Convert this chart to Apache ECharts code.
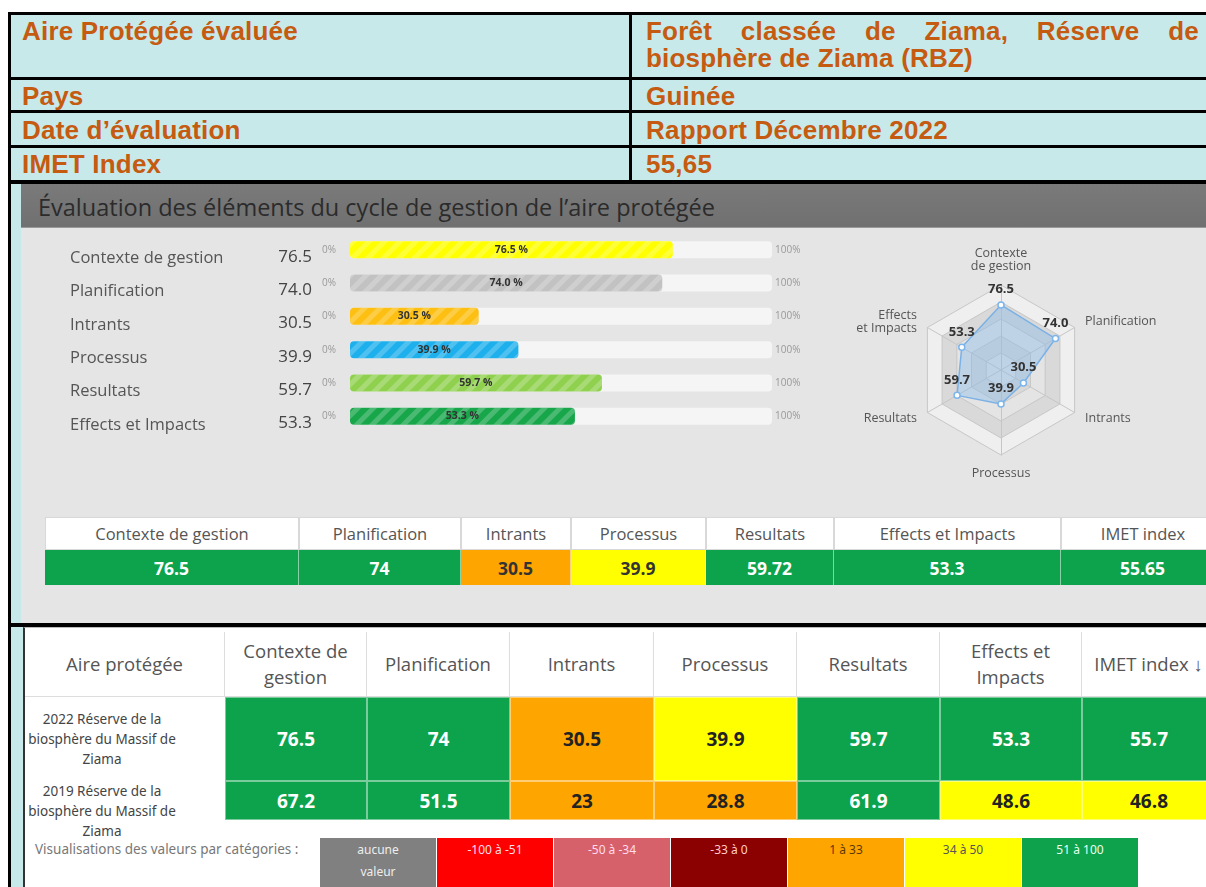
<!DOCTYPE html>
<html>
<head>
<meta charset="utf-8">
<script src="https://cdn.jsdelivr.net/npm/echarts@6/dist/echarts.min.js"></script>
<style>
  html, body { margin: 0; padding: 0; background: #fff; }
  #page { position: relative; width: 1206px; height: 887px; overflow: hidden; font-family: "Open Sans", sans-serif; }
  .a { position: absolute; box-sizing: border-box; }
  .bk { position: absolute; background: #000; }
  .hd { position: absolute; font-family: "Liberation Sans", Arial, sans-serif; font-weight: bold; font-size: 26px; letter-spacing: 0.2px; color: #c55a11; white-space: nowrap; }
  .cell { position: absolute; box-sizing: border-box; display: flex; align-items: center; justify-content: center; text-align: center; white-space: pre-line; }
</style>
</head>
<body>
<div id="page">
  <!-- cadre bleu clair + bordures noires -->
  <div class="a" style="left:8px;top:12px;width:1198px;height:875px;background:#c8e9ea"></div>
  <div class="bk" style="left:8px;top:12px;width:1198px;height:3px"></div>
  <div class="bk" style="left:8px;top:12px;width:3px;height:875px"></div>
  <div class="bk" style="left:8px;top:77px;width:1198px;height:3px"></div>
  <div class="bk" style="left:8px;top:110px;width:1198px;height:3px"></div>
  <div class="bk" style="left:8px;top:145px;width:1198px;height:3px"></div>
  <div class="bk" style="left:8px;top:180px;width:1198px;height:4px"></div>
  <div class="bk" style="left:629px;top:12px;width:3px;height:170px"></div>

  <div class="hd" style="left:22px;top:17px;line-height:28px">Aire Protégée évaluée</div>
  <div class="hd" style="left:646px;top:17px;width:553px;line-height:28px;text-align:justify;text-align-last:justify">Forêt classée de Ziama, Réserve de</div>
  <div class="hd" style="left:646px;top:44px;line-height:28px">biosphère de Ziama (RBZ)</div>
  <div class="hd" style="left:22px;top:81px;line-height:30px">Pays</div>
  <div class="hd" style="left:646px;top:81px;line-height:30px">Guinée</div>
  <div class="hd" style="left:22px;top:115px;line-height:30px">Date d’évaluation</div>
  <div class="hd" style="left:646px;top:115px;line-height:30px">Rapport Décembre 2022</div>
  <div class="hd" style="left:22px;top:149px;line-height:30px">IMET Index</div>
  <div class="hd" style="left:646px;top:149px;line-height:30px">55,65</div>

  <!-- tableau de bord -->
  <div class="a" style="left:21px;top:184px;width:1185px;height:44px;background:linear-gradient(#7a7a7a,#707070);border-bottom:1px solid #9a9a9a"></div>
  <div class="a" style="left:38px;top:192px;font-size:23.5px;color:#2b2b2b;line-height:30px;white-space:nowrap">Évaluation des éléments du cycle de gestion de l’aire protégée</div>
  <div class="a" style="left:21px;top:228px;width:1185px;height:395px;background:#e5e5e5"></div>
  <div id="chart" class="a" style="left:20px;top:229px;width:1186px;height:272px"></div>
  <div id="summary"></div>
  <div class="bk" style="left:8px;top:623px;width:1198px;height:4px"></div>

  <!-- comparaison -->
  <div class="a" style="left:23px;top:627px;width:1183px;height:260px;background:#fff;border-left:2px solid #333;border-top:1px solid #bbb"></div>
  <div id="compare"></div>
  <div class="a" style="left:35px;top:840px;font-size:13.5px;color:#777;white-space:nowrap;font-family:'Noto Sans',sans-serif">Visualisations des valeurs par catégories :</div>
  <div id="legend"></div>
</div>

<script>
// données
const categories = ['Contexte de gestion', 'Planification', 'Intrants', 'Processus', 'Resultats', 'Effects et Impacts'];
const scores = [76.5, 74.0, 30.5, 39.9, 59.7, 53.3];
const radarNames = ['Contexte\nde gestion', 'Planification', 'Intrants', 'Processus', 'Resultats', 'Effects\net Impacts'];
const summaryHeaders = ['Contexte de gestion', 'Planification', 'Intrants', 'Processus', 'Resultats', 'Effects et Impacts', 'IMET index'];
const summaryValues = [76.5, 74, 30.5, 39.9, 59.72, 53.3, 55.65];
const compareHeaders = ['Aire protégée', 'Contexte de\ngestion', 'Planification', 'Intrants', 'Processus', 'Resultats', 'Effects et\nImpacts', 'IMET index ↓'];
const compareRows = ['2022  Réserve de la\nbiosphère du Massif de\nZiama', '2019  Réserve de la\nbiosphère du Massif de\nZiama'];
const values2022 = [76.5, 74, 30.5, 39.9, 59.7, 53.3, 55.7];
const values2019 = [67.2, 51.5, 23, 28.8, 61.9, 48.6, 46.8];
const legendLabels = ['aucune\nvaleur', '-100 à -51', '-50 à -34', '-33 à 0', '1 à 33', '34 à 50', '51 à 100'];

// styles
const barColors = ['#ffff00', '#c2c2c2', '#fdbf12', '#1db0ec', '#8fd14f', '#17a64a'];
const legendColors = ['#808080', '#ff0000', '#d6616b', '#8b0000', '#ffa500', '#ffff00', '#0fa24c'];
const legendText = ['#eee', '#fde', '#fde', '#fcc', '#5a3a00', '#555', '#e8fff0'];

function catColor(v) {
  if (v >= 51) return '#0da34c';
  if (v >= 34) return '#ffff00';
  if (v >= 1) return '#ffa500';
  return '#808080';
}

function addCell(parent, x, y, w, h, text, css) {
  const d = document.createElement('div');
  d.className = 'cell';
  d.style.cssText = `left:${x}px;top:${y}px;width:${w}px;height:${h}px;` + (css || '');
  d.textContent = text;
  parent.appendChild(d);
  return d;
}

// tableau récapitulatif
const sumEl = document.getElementById('summary');
const sumEdges = [45, 299, 461, 571, 706, 834, 1061, 1225];
summaryHeaders.forEach((h, i) => {
  const w = sumEdges[i + 1] - sumEdges[i];
  addCell(sumEl, sumEdges[i], 517, w, 33, h,
    'background:#fff;border:1px solid #d8d8d8;font-size:16.5px;color:#555');
  const v = summaryValues[i];
  addCell(sumEl, sumEdges[i], 550, w, 35, String(v),
    `background:${catColor(v)};border-right:1px solid rgba(255,255,255,0.5);font-size:17.5px;font-weight:bold;color:${v >= 51 ? '#fff' : '#333'}`);
});

// tableau de comparaison
const cmpEl = document.getElementById('compare');
const cmpEdges = [25, 225, 367, 510, 654, 797, 940, 1082, 1216];
compareHeaders.forEach((h, i) => {
  addCell(cmpEl, cmpEdges[i], 632, cmpEdges[i + 1] - cmpEdges[i], 65, h,
    'border-right:1px solid #ddd;border-bottom:1px solid #ddd;font-size:18.5px;color:#555;line-height:26px;white-space:pre');
});
compareRows.forEach((r, j) => {
  const top = j === 0 ? 697 : 781;
  const h = j === 0 ? 84 : 39;
  addCell(cmpEl, 22, top, 160, h, r,
    `font-size:13.5px;color:#444;line-height:20px;font-family:'Noto Sans',sans-serif;` + (j === 1 ? 'align-items:flex-start;' : ''));
  const vals = j === 0 ? values2022 : values2019;
  vals.forEach((v, i) => {
    addCell(cmpEl, cmpEdges[i + 1], top, cmpEdges[i + 2] - cmpEdges[i + 1], h, String(v),
      `background:${catColor(v)};border:1px solid rgba(255,255,255,0.45);font-size:19px;font-weight:bold;color:${v >= 51 ? '#fff' : '#222'}`);
  });
});

// légende des catégories
const legEl = document.getElementById('legend');
legendLabels.forEach((t, i) => {
  addCell(legEl, 320 + i * 117, 838, 116, 60, t,
    `background:${legendColors[i]};color:${legendText[i]};font-size:12px;line-height:22px;align-items:flex-start;padding-top:1px;font-family:'Noto Sans',sans-serif`);
});

// graphique : barres + radar
const chart = echarts.init(document.getElementById('chart'), null, { renderer: 'canvas' });
const radarOrder = [0, 5, 4, 3, 2, 1];   // radar ECharts tourne dans le sens anti-horaire
const hiddenAxis = { axisLine: { show: false }, axisTick: { show: false } };
chart.setOption({
  backgroundColor: 'transparent',
  animation: false,
  textStyle: { fontFamily: 'Open Sans' },
  grid: { left: 330, width: 422, top: 4, height: 200 },
  xAxis: { type: 'value', min: 0, max: 100, show: false },
  yAxis: [{
    type: 'category', data: categories, inverse: true, ...hiddenAxis,
    axisLabel: { margin: 14, fontSize: 10, color: '#999', formatter: () => '0%' },
  }, {
    type: 'category', data: categories, inverse: true, position: 'right', ...hiddenAxis,
    axisLabel: { margin: 3, fontSize: 10, color: '#999', formatter: () => '100%' },
  }, {
    type: 'category', data: categories, inverse: true, position: 'left', ...hiddenAxis,
    axisLabel: {
      align: 'left',
      margin: 280,
      padding: [14, 0, 0, 0],
      formatter: (v, i) => `{n|${v}}{v|${scores[i].toFixed(1)}}`,
      rich: {
        n: { width: 200, fontSize: 16.5, color: '#555', padding: [3, 0, 0, 0] },
        v: { width: 42, align: 'right', fontSize: 17, color: '#444' },
      },
    },
  }],
  radar: {
    center: [981, 141],
    radius: 85,
    startAngle: 90,
    splitNumber: 5,
    shape: 'polygon',
    nameGap: 12,
    axisName: { color: '#555', fontSize: 12.5, lineHeight: 13 },
    indicator: radarOrder.map(i => ({ name: radarNames[i], max: 100 })),
    splitLine: { lineStyle: { color: '#c6c6c6' } },
    axisLine: { lineStyle: { color: '#c6c6c6' } },
    splitArea: { areaStyle: { color: ['#e4e4e4', '#d9d9d9', '#e4e4e4', '#d9d9d9', '#efefef'] } },
  },
  series: [{
    type: 'bar',
    yAxisIndex: 0,
    barWidth: 17,
    showBackground: true,
    backgroundStyle: { color: '#f5f5f5', borderRadius: 4 },
    data: scores.map((v, i) => ({
      value: v,
      itemStyle: {
        color: barColors[i],
        borderRadius: 4,
        decal: {
          symbol: 'rect', symbolSize: 1, dashArrayX: [1, 0], dashArrayY: [5, 6],
          rotation: -Math.PI / 4, color: 'rgba(255,255,255,0.22)',
        },
      },
    })),
    label: {
      show: true, position: 'inside', fontSize: 10.5, fontWeight: 'bold', color: '#333',
      formatter: p => p.value.toFixed(1) + ' %',
    },
  }, {
    type: 'radar',
    symbol: 'circle',
    symbolSize: 6,
    itemStyle: { color: '#fff', borderColor: '#7cb5ec', borderWidth: 1.5 },
    lineStyle: { color: '#7cb0e4', width: 1.5 },
    areaStyle: { color: 'rgba(124,181,236,0.5)' },
    label: {
      show: true, position: 'top', fontSize: 13, fontWeight: 'bold', color: '#333',
      formatter: p => Number(p.value).toFixed(1),
    },
    data: [{ value: radarOrder.map(i => scores[i]) }],
  }],
});
</script>
</body>
</html>
